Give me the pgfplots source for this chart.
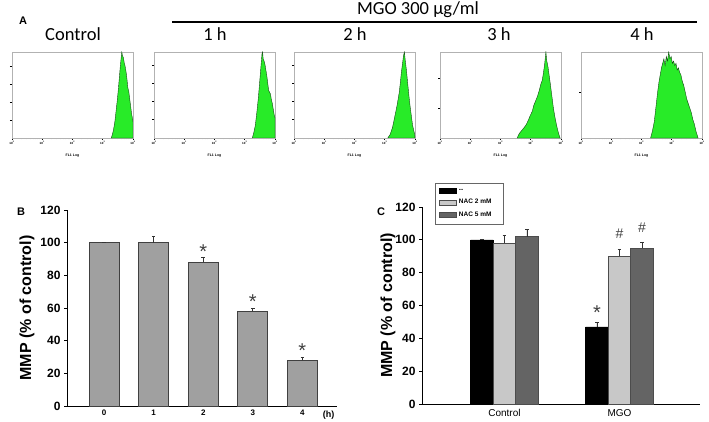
\documentclass[border=0pt]{standalone}
\usepackage{pgfplots}
\pgfplotsset{compat=1.18}
\usepackage{fontspec}
\setmainfont{Liberation Sans}
\newfontfamily\calfont{Carlito}
\definecolor{histgreen}{RGB}{40,235,40}
\definecolor{histedge}{RGB}{20,70,20}
\definecolor{barB}{RGB}{160,160,160}
\definecolor{lgray}{RGB}{200,200,200}
\definecolor{dgray}{RGB}{100,100,100}
\pgfdeclareplotmark{halfcap}{\pgfpathmoveto{\pgfpoint{0pt}{0pt}}\pgfpathlineto{\pgfpoint{0pt}{-\pgfplotmarksize}}\pgfusepathqstroke}
\pgfplotsset{
 hist/.style={
  scale only axis, width=121pt, height=86pt, xmin=0, xmax=4, ymin=0,
  axis line style={gray!60, line width=0.7pt},
  xtick={0,1,2,3,4},
  xticklabels={10\textsuperscript{0},10\textsuperscript{1},10\textsuperscript{2},10\textsuperscript{3},10\textsuperscript{4}},
  minor xtick={0.301,0.477,0.602,0.699,0.778,0.845,0.903,0.954,1.301,1.477,1.602,1.699,1.778,1.845,1.903,1.954,2.301,2.477,2.602,2.699,2.778,2.845,2.903,2.954,3.301,3.477,3.602,3.699,3.778,3.845,3.903,3.954},
  tick align=outside, major tick length=2pt, minor tick length=1.2pt,
  every tick/.style={black, line width=0.6pt},
  xtick pos=bottom, ytick pos=left,
  x tick label style={font=\bfseries\fontsize{3}{3}\selectfont, inner sep=0.6pt},
  yticklabels={},
  xlabel={FL1 Log},
  xlabel style={font=\bfseries\fontsize{3.5}{4}\selectfont, at={(axis description cs:0.5,-0.15)}, anchor=north},
 },
 hfill/.style={fill=histgreen, draw=histedge, line width=0.4pt},
 bars/.style={
  scale only axis, ymin=0, ymax=120, axis lines=left,
  axis line style={-, black, line width=0.8pt},
  ytick={0,20,...,120},
  tick align=outside, major tick length=3pt,
  every tick/.style={black, line width=0.8pt},
  /pgf/number format/assume math mode=true,
  y tick label style={font=\bfseries\fontsize{12}{12}\selectfont},
  ylabel={MMP (\% of control)},
  ylabel style={font=\bfseries\fontsize{16}{16}\selectfont, rotate=0, anchor=center},
  clip=false,
 },
 ebar/.style={error bars/.cd, y dir=plus, y explicit, error mark=halfcap,
  error mark options={mark size=3.5pt, line width=0.8pt, black!80}, error bar style={line width=0.8pt, black!80}},
}
\begin{document}
\begin{tikzpicture}
\useasboundingbox (0pt,0pt) rectangle (709pt,421pt);
% ---- panel A texts
\node[font=\bfseries\fontsize{11}{11}\selectfont] at (23pt,400pt) {A};
\draw[line width=1.5pt] (172pt,399pt) -- (697pt,399pt);
\node[font=\calfont\fontsize{18.5}{18.5}\selectfont, anchor=base] at (418pt,406pt) {MGO 300 µg/ml};
\node[font=\calfont\fontsize{18.5}{18.5}\selectfont, anchor=base] at (73pt,380pt) {Control};
\node[font=\calfont\fontsize{18.5}{18.5}\selectfont, anchor=base] at (215pt,380pt) {1 h};
\node[font=\calfont\fontsize{18.5}{18.5}\selectfont, anchor=base] at (355pt,380pt) {2 h};
\node[font=\calfont\fontsize{18.5}{18.5}\selectfont, anchor=base] at (499pt,380pt) {3 h};
\node[font=\calfont\fontsize{18.5}{18.5}\selectfont, anchor=base] at (642pt,380pt) {4 h};
% ---- histograms
\begin{axis}[hist, anchor=south west, at={(12pt,283pt)}, ymax=48, ytick={10,20,30,40}]
\addplot[hfill] coordinates {(3.28,0) (3.32,2) (3.36,5) (3.40,9) (3.44,15) (3.48,21) (3.52,28) (3.55,34) (3.58,40) (3.61,45) (3.63,48) (3.65,46) (3.68,45) (3.71,42) (3.74,40) (3.77,37) (3.80,33) (3.83,28) (3.86,26) (3.89,22) (3.92,18) (3.95,14) (3.98,11) (4.00,9) (4.00,0)} -- cycle;
\node[rotate=90, font=\bfseries\fontsize{3.5}{4}\selectfont] at ([xshift=-8pt,yshift=-4pt]rel axis cs:0,1) {48};
\end{axis}
\begin{axis}[hist, anchor=south west, at={(154pt,283pt)}, ymax=47, ytick={10,20,30,40}]
\addplot[hfill] coordinates {(3.25,0) (3.30,3) (3.35,7) (3.40,14) (3.45,22) (3.50,32) (3.54,40) (3.57,46) (3.59,47) (3.61,43) (3.64,42) (3.67,40) (3.70,37) (3.73,34) (3.76,30) (3.79,26) (3.82,25) (3.85,24) (3.88,21) (3.91,19) (3.94,16) (3.97,13) (4.00,11) (4.00,0)} -- cycle;
\node[rotate=90, font=\bfseries\fontsize{3.5}{4}\selectfont] at ([xshift=-8pt,yshift=-4pt]rel axis cs:0,1) {47};
\end{axis}
\begin{axis}[hist, anchor=south west, at={(294pt,283pt)}, ymax=47, ytick={10,20,30,40}]
\addplot[hfill] coordinates {(3.10,0) (3.18,2) (3.26,6) (3.31,10) (3.36,14) (3.42,19) (3.48,25) (3.52,31) (3.55,36) (3.59,41) (3.62,45) (3.65,47) (3.68,42) (3.71,38) (3.74,33) (3.77,28) (3.80,23) (3.84,17) (3.88,12) (3.92,7) (3.96,4) (3.99,2) (4.00,0)} -- cycle;
\node[rotate=90, font=\bfseries\fontsize{3.5}{4}\selectfont] at ([xshift=-8pt,yshift=-4pt]rel axis cs:0,1) {47};
\end{axis}
\begin{axis}[hist, anchor=south west, at={(440pt,283pt)}, ymax=29, ytick={10,20}]
\addplot[hfill] coordinates {(2.55,0) (2.62,1.5) (2.70,2.5) (2.78,3.5) (2.85,4.5) (2.92,6) (2.98,7.5) (3.05,9) (3.10,11) (3.16,12.5) (3.22,14) (3.28,16) (3.33,18) (3.38,19.5) (3.42,22) (3.46,25) (3.50,29) (3.53,26) (3.57,24) (3.61,21) (3.65,18) (3.70,14) (3.75,10) (3.80,7) (3.86,4) (3.92,1.5) (3.97,0)} -- cycle;
\node[rotate=90, font=\bfseries\fontsize{3.5}{4}\selectfont] at ([xshift=-8pt,yshift=-4pt]rel axis cs:0,1) {29};
\end{axis}
\begin{axis}[hist, anchor=south west, at={(581pt,283pt)}, ymax=19, ytick={10}]
\addplot[hfill] coordinates {(2.30,0) (2.36,1.5) (2.42,3.5) (2.48,7) (2.53,10) (2.58,12.5) (2.62,14) (2.66,15.5) (2.70,16.5) (2.74,17.5) (2.78,16) (2.82,18) (2.86,17) (2.90,19) (2.94,17.5) (2.98,18) (3.02,16.5) (3.06,17) (3.10,16) (3.14,16.5) (3.18,15) (3.22,15.5) (3.26,14.5) (3.30,14) (3.35,12.5) (3.40,11.5) (3.45,10) (3.50,8.5) (3.55,7.5) (3.60,6.5) (3.65,5.5) (3.70,4) (3.75,3) (3.80,1.5) (3.87,0)} -- cycle;
\node[rotate=90, font=\bfseries\fontsize{3.5}{4}\selectfont] at ([xshift=-8pt,yshift=-4pt]rel axis cs:0,1) {19};
\end{axis}
% ---- panel B
\node[font=\bfseries\fontsize{11}{11}\selectfont] at (21pt,209pt) {B};
\begin{axis}[bars, anchor=south west, at={(67pt,15pt)}, width=270pt, height=196pt,
  xmin=-0.75, xmax=4.7, xtick={0,1,2,3,4}, xticklabels={0,1,2,3,4},
  x tick label style={font=\bfseries\fontsize{8}{8}\selectfont, inner sep=1pt},
  xtick style={draw=none},
  ylabel style={at={(axis description cs:-0.148,0.5)}}]
\addplot[ybar, bar width=30pt, fill=barB, draw=black!75, line width=0.8pt, ebar]
  coordinates {(0,100) +- (0,0) (1,100) +- (0,4) (2,88) +- (0,3) (3,58) +- (0,2) (4,28) +- (0,1.5)};
\node[font=\fontsize{20}{20}\selectfont, text=black!75] at (axis cs:2,94.7) {*};
\node[font=\fontsize{20}{20}\selectfont, text=black!75] at (axis cs:3,64.1) {*};
\node[font=\fontsize{20}{20}\selectfont, text=black!75] at (axis cs:4,34.1) {*};
\node[font=\bfseries\fontsize{9}{9}\selectfont, anchor=north] at ([yshift=-1pt]axis cs:4.53,0) {(h)};
\end{axis}
% ---- panel C
\node[font=\bfseries\fontsize{11}{11}\selectfont] at (381pt,209pt) {C};
\begin{axis}[bars, anchor=south west, at={(422pt,17pt)}, width=278pt, height=197pt,
  xmin=-0.717, xmax=1.7, xtick={0,1}, xticklabels={Control,MGO},
  x tick label style={font=\fontsize{10}{10}\selectfont, inner sep=2pt},
  xtick style={draw=none},
  ylabel style={at={(axis description cs:-0.122,0.5)}},
  legend style={at={(rel axis cs:0.047,1.122)}, anchor=north west, draw=black!60, line width=0.6pt,
    font=\bfseries\fontsize{6.5}{7}\selectfont, row sep=2.5pt, inner xsep=4pt, inner ysep=4pt,
    cells={anchor=west}},
  legend image code/.code={\draw[#1, line width=0.6pt] (0pt,-2.5pt) rectangle (17pt,2.5pt);}]
\addplot[ybar, bar width=22.5pt, bar shift=0pt, fill=black, draw=black, line width=0.6pt, ebar]
  coordinates {(-0.1957,100) +- (0,0) (0.8043,47) +- (0,2.5)};
\addplot[ybar, bar width=22.5pt, bar shift=0pt, fill=lgray, draw=black!70, line width=0.6pt, ebar]
  coordinates {(0,98) +- (0,5) (1,90) +- (0,4)};
\addplot[ybar, bar width=22.5pt, bar shift=0pt, fill=dgray, draw=black!70, line width=0.6pt, ebar]
  coordinates {(0.1957,102) +- (0,4.5) (1.1957,95) +- (0,3.5)};
\legend{\makebox[38pt][l]{{-}{-}}, NAC 2 mM, NAC 5 mM}
\node[font=\fontsize{20}{20}\selectfont, text=black!75] at (axis cs:0.8043,55.9) {*};
\node[font=\fontsize{14}{14}\selectfont, text=black!75] at (axis cs:1,103.5) {\#};
\node[font=\fontsize{14}{14}\selectfont, text=black!75] at (axis cs:1.1957,107.5) {\#};
\end{axis}
\end{tikzpicture}
\end{document}
